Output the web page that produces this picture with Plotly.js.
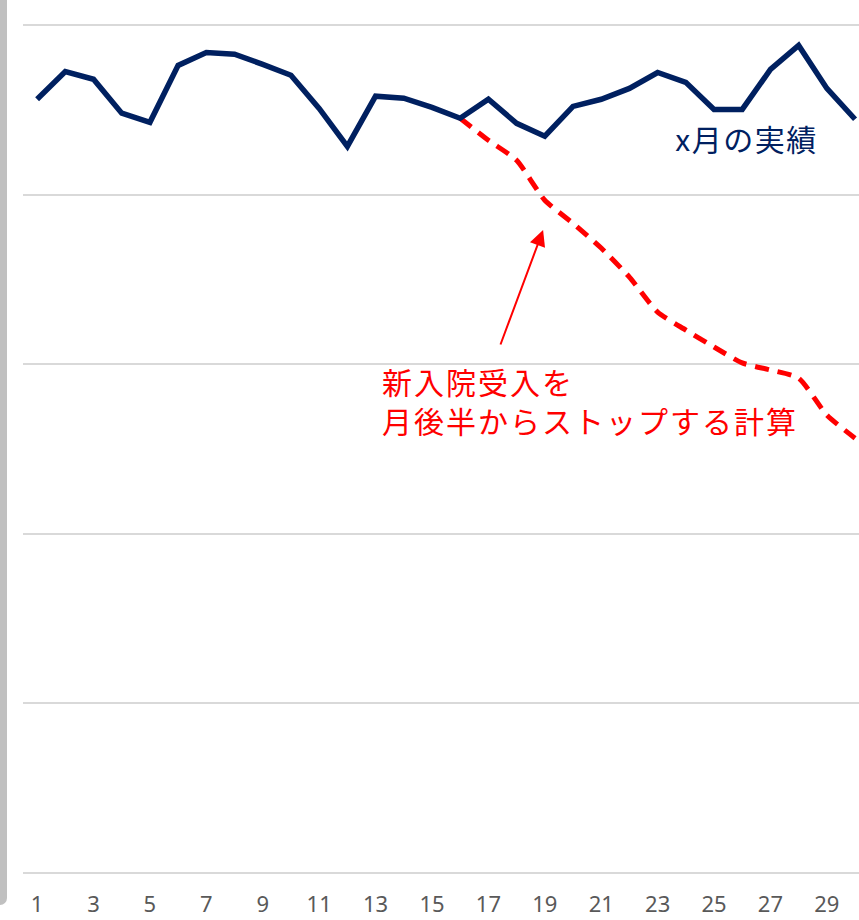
<!DOCTYPE html>
<html>
<head>
<meta charset="utf-8">
<script src="https://cdn.plot.ly/plotly-3.0.1.min.js"></script>
<style>
html,body{margin:0;padding:0;background:#fff;}
#wrap{position:relative;width:859px;height:920px;}
#bar{position:absolute;left:0;top:0;width:7px;height:905px;background:#c0c0c0;border-bottom-right-radius:7px;z-index:2;}
#chart{position:absolute;left:0;top:0;width:859px;height:920px;}
</style>
</head>
<body>
<div id="wrap"><div id="chart"></div><div id="bar"></div></div>
<script>
const days = [1,2,3,4,5,6,7,8,9,10,11,12,13,14,15,16,17,18,19,20,21,22,23,24,25,26,27,28,29,30];
const actual = [228.2,236.4,234.1,224.1,221.4,238.2,242.0,241.5,238.5,235.3,225.5,214.3,229.1,228.5,225.8,222.6,228.2,221.1,217.3,226.1,228.2,231.4,236.1,233.2,225.2,225.2,237.0,244.1,231.4,222.3];
const projDays = [16,17,18,19,20,21,22,23,24,25,26,27,28,29,30];
const projected = [222.6,216.1,210.2,198.4,191.6,184.3,175.7,165.4,160.1,155.1,150.4,148.3,145.9,135.0,128.2];
const tickVals = [1,3,5,7,9,11,13,15,17,19,21,23,25,27,29];
const tickText = tickVals.map(String);
const labelActual = 'x月の実績';
const noteLines = ['新入院受入を', '月後半からストップする計算'];

const traces = [
  {x: projDays, y: projected, type:'scatter', mode:'lines',
   line:{color:'#ff0000', width:5, dash:'14px,9px', shape:'spline', smoothing:0.6},
   hoverinfo:'skip', showlegend:false},
  {x: days, y: actual, type:'scatter', mode:'lines',
   line:{color:'#002060', width:5.5}, hoverinfo:'skip', showlegend:false}
];

const jp = '"Noto Sans CJK JP", "Noto Sans", sans-serif';
const layout = {
  width:859, height:920,
  margin:{l:23, r:0, t:21.6, b:43.6, pad:0},
  paper_bgcolor:'#ffffff', plot_bgcolor:'#ffffff',
  showlegend:false,
  xaxis:{range:[0.5,30.14], tickvals:tickVals, ticktext:tickText, showgrid:false, zeroline:false,
         showline:false, ticks:'outside', ticklen:9, tickcolor:'rgba(0,0,0,0)',
         tickfont:{family:'"Noto Sans", sans-serif', size:22, color:'#595959'}},
  yaxis:{range:[-1,251], tickvals:[0,50,100,150,200,250], showticklabels:false, gridcolor:'#d9d9d9', gridwidth:2,
         zeroline:false, showline:false, ticks:''},
  annotations:[
    {x:23.69, y:216.7, xref:'x', yref:'y', text:labelActual, showarrow:false, xanchor:'left', yanchor:'middle',
     font:{family:jp, size:30, color:'#002060'}},
    {x:13.17, y:139.4, xref:'x', yref:'y', text:noteLines.join('<br>'), showarrow:false, xanchor:'left', yanchor:'middle',
     align:'left', font:{family:jp, size:30, color:'#ff0000'}},
    {x:18.94, y:189.6, xref:'x', yref:'y', ax:17.41, ay:155.4, axref:'x', ayref:'y', text:'',
     showarrow:true, arrowhead:2, arrowsize:1.6, arrowwidth:2, arrowcolor:'#ff0000'}
  ]
};
Plotly.newPlot('chart', traces, layout, {displayModeBar:false, staticPlot:true}).then(function(gd){
  const txts = gd.querySelectorAll('.annotation-text');
  if (txts[0]) txts[0].style.letterSpacing = '1.5px';
  if (txts[1]) txts[1].style.letterSpacing = '2px';
});
</script>
</body>
</html>
